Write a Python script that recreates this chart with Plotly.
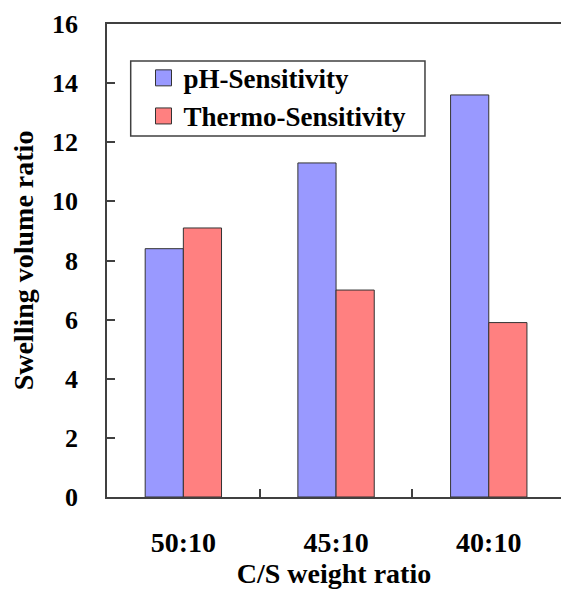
import plotly.graph_objects as go

# C/S weight ratio categories and swelling volume ratios
ratios = ["50:10", "45:10", "40:10"]
ph_sensitivity = [8.4, 11.3, 13.6]
thermo_sensitivity = [9.1, 7.0, 5.9]
y_ticks = [0, 2, 4, 6, 8, 10, 12, 14, 16]

PH_COLOR = "#9999FF"
THERMO_COLOR = "#FF8080"
EDGE = "#333333"
AXIS = "#404040"
FONT = "Liberation Serif, Times New Roman, serif"

fig = go.Figure()
fig.add_trace(go.Bar(
    x=ratios, y=ph_sensitivity, name="pH-Sensitivity",
    marker=dict(color=PH_COLOR, line=dict(color=EDGE, width=1)),
    showlegend=False, legendgroup="ph",
))
fig.add_trace(go.Bar(
    x=ratios, y=thermo_sensitivity, name="Thermo-Sensitivity",
    marker=dict(color=THERMO_COLOR, line=dict(color=EDGE, width=1)),
    showlegend=False, legendgroup="thermo",
))
# legend entries with square swatches
for name, color, grp in [("pH-Sensitivity", PH_COLOR, "ph"),
                         ("Thermo-Sensitivity", THERMO_COLOR, "thermo")]:
    fig.add_trace(go.Scatter(
        x=[None], y=[None], mode="markers", name=name, legendgroup=grp,
        marker=dict(symbol="square", size=17, color=color,
                    line=dict(color=EDGE, width=1)),
    ))

fig.update_layout(
    width=561, height=590,
    margin=dict(l=107, r=0, t=24, b=93, autoexpand=False),
    paper_bgcolor="white", plot_bgcolor="white",
    barmode="group", bargap=0.5, bargroupgap=0,
    font=dict(family=FONT, size=26, color="black"),
    legend=dict(
        x=0.0804, y=0.937, xanchor="left", yanchor="top",
        borderwidth=0, bgcolor="rgba(0,0,0,0)",
        font=dict(family=FONT, size=27, color="black", weight="bold"),
        itemsizing="trace", tracegroupgap=0,
    ),
    # frame around the legend
    shapes=[dict(
        type="rect", xref="paper", yref="paper",
        x0=0.0522, x1=0.7004, y0=0.7632, y1=0.9218,
        line=dict(color=AXIS, width=1.5), fillcolor="rgba(0,0,0,0)",
        layer="above",
    )],
)
fig.update_xaxes(
    type="category", range=[-0.5, 2.473],
    showline=True, linecolor=AXIS, linewidth=1.5, mirror=True,
    ticks="inside", ticklen=8, tickwidth=1.5, tickcolor=AXIS,
    tickson="boundaries", showgrid=False, zeroline=False,
    tickfont=dict(family=FONT, size=28, weight="bold"),
    ticklabelstandoff=20,
    title=dict(text="C/S weight ratio", standoff=0,
               font=dict(family=FONT, size=28, weight="bold")),
    automargin=False,
)
fig.update_yaxes(
    range=[0, 16], tickvals=y_ticks,
    showline=True, linecolor=AXIS, linewidth=1.5,
    ticks="inside", ticklen=8, tickwidth=1.5, tickcolor=AXIS,
    showgrid=False, zeroline=False,
    tickfont=dict(family=FONT, size=26, weight="bold"),
    ticklabelstandoff=22,
    title=dict(text="Swelling volume ratio", standoff=10,
               font=dict(family=FONT, size=28, weight="bold")),
    automargin=False,
)

fig.write_html("out.html")
